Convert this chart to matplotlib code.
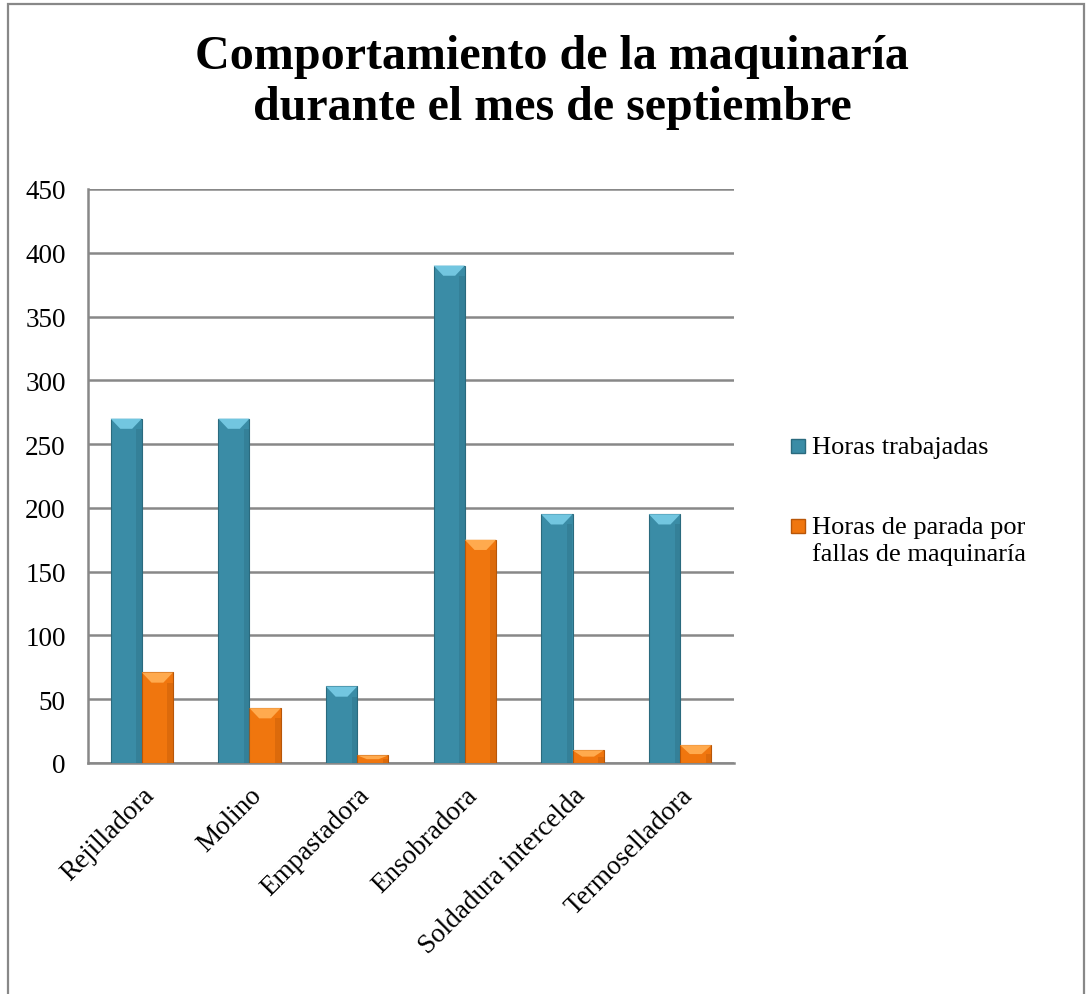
import matplotlib
matplotlib.use("Agg")
import matplotlib.pyplot as plt
import numpy as np
from matplotlib.patches import Rectangle, Polygon

categories = ["Rejilladora", "Molino", "Empastadora", "Ensobradora",
              "Soldadura intercelda", "Termoselladora"]
horas_trabajadas = [270, 270, 60, 390, 195, 195]
horas_parada = [71, 43, 6, 175, 10, 14]
series_labels = ["Horas trabajadas", "Horas de parada por\nfallas de maquinaría"]
yticks = [0, 50, 100, 150, 200, 250, 300, 350, 400, 450]
title = "Comportamiento de la maquinaría\ndurante el mes de septiembre"

plt.rcParams['font.family'] = ['Liberation Serif', 'DejaVu Serif']

W, H = 1086, 995
fig = plt.figure(figsize=(W / 100, H / 100), dpi=100)

# outer chart border
fig.patches.append(Rectangle((8 / W, -0.01), (1084 - 8) / W, (H - 5) / H + 0.01,
                             transform=fig.transFigure, fill=False,
                             edgecolor='#888888', linewidth=1.6))

ax = fig.add_axes([88 / W, (H - 764) / H, (734 - 88) / W, (764 - 190) / H])

blue = '#3A8CA6'
blue_dark = '#2A6A7E'
blue_light = '#72C6E0'
orange = '#F0760E'
orange_dark = '#B85608'
orange_light = '#FFAA4E'

x = np.arange(len(categories))
bw = 0.29
ax.set_xlim(-0.5, len(categories) - 0.5)
ax.set_ylim(0, 450)


def draw_bars(xpos, vals, color, dark, light, label):
    bars = ax.bar(xpos, vals, width=bw, align='edge', color=color,
                  edgecolor=dark, linewidth=0.8, label=label, zorder=3)
    # bevel on top
    for b, v in zip(bars, vals):
        x0 = b.get_x()
        w = b.get_width()
        bh = min(8.0, v / 2.0)
        inset = min(0.09, w / 2.2)
        ax.add_patch(Polygon([(x0, v), (x0 + w, v), (x0 + w - inset, v - bh),
                              (x0 + inset, v - bh)], closed=True,
                             facecolor=light, edgecolor='none', zorder=4))
        # darker right side shading
        ax.add_patch(Rectangle((x0 + w * 0.82, 0), w * 0.18, v - bh,
                               facecolor=dark, alpha=0.35, edgecolor='none', zorder=4))
    return bars


draw_bars(x - bw, horas_trabajadas, blue, blue_dark, blue_light, series_labels[0])
draw_bars(x, horas_parada, orange, orange_dark, orange_light, series_labels[1])

ax.set_yticks(yticks)
ax.set_yticklabels([str(t) for t in yticks], fontsize=19.5)
ax.yaxis.grid(True, color='#888888', linewidth=1.8, zorder=0)
ax.set_axisbelow(True)
ax.tick_params(axis='y', length=0, pad=16)

ax.set_xticks(x)
ax.set_xticklabels(categories, fontsize=19.5, rotation=45, ha='right',
                   rotation_mode='anchor')
ax.tick_params(axis='x', length=0, pad=14)

for s in ['top', 'right']:
    ax.spines[s].set_visible(False)
ax.spines['left'].set_color('#888888')
ax.spines['bottom'].set_color('#888888')
ax.spines['left'].set_linewidth(1.8)
ax.spines['bottom'].set_linewidth(1.8)

fig.text(552 / W, 1 - 35 / H, title, ha='center', va='top', fontsize=34.6,
         fontweight='bold', linespacing=1.2)

# legend (manual)
def legend_entry(ypix, color, dark, label):
    s = 14
    fig.patches.append(Rectangle((791 / W, 1 - (ypix + s / 2) / H), s / W, s / H,
                                 transform=fig.transFigure, facecolor=color,
                                 edgecolor=dark, linewidth=1.0))
    fig.text(812 / W, 1 - (ypix - 10) / H, label, ha='left', va='top',
             fontsize=19, linespacing=1.2)

legend_entry(447, blue, blue_dark, series_labels[0])
legend_entry(527, orange, orange_dark, series_labels[1])

fig.savefig('out.png', dpi=100)
